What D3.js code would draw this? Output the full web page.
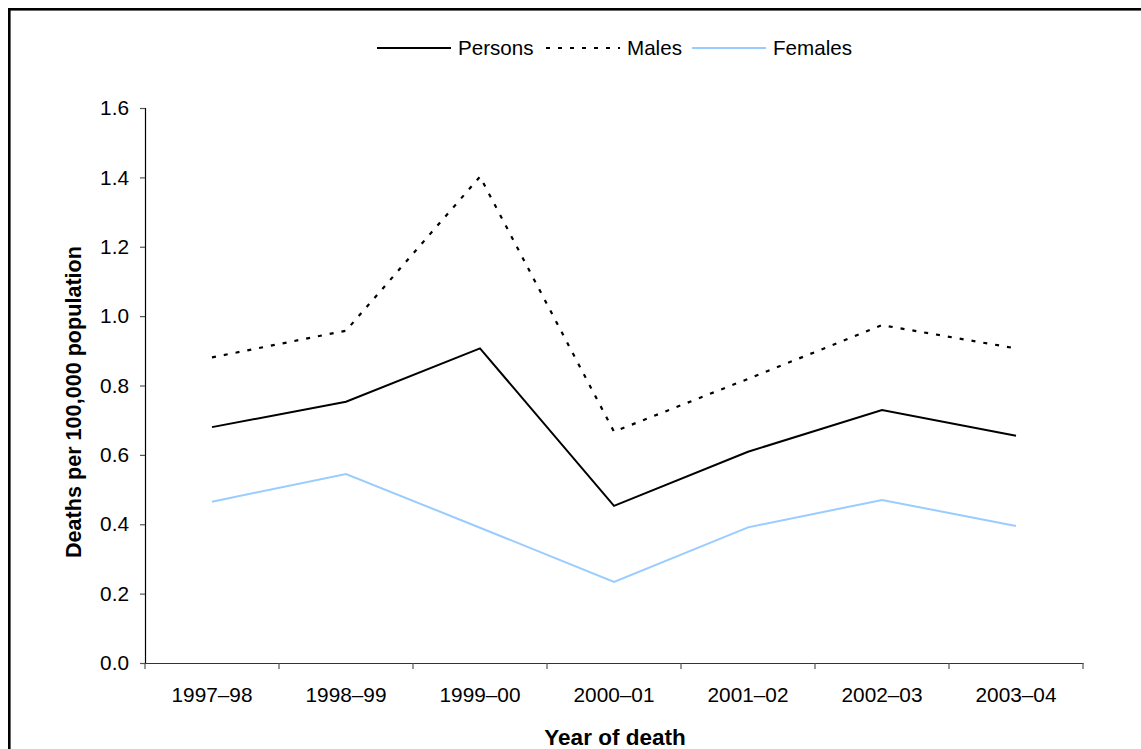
<!DOCTYPE html>
<html>
<head>
<meta charset="utf-8">
<script src="https://cdn.jsdelivr.net/npm/d3@7"></script>
<style>
  html, body { margin: 0; padding: 0; background: #fff; }
  svg { display: block; font-family: "Liberation Sans", Arial, sans-serif; }
</style>
</head>
<body>
<svg id="chart" width="1141" height="749"></svg>
<script>
const categories = ["1997–98", "1998–99", "1999–00", "2000–01", "2001–02", "2002–03", "2003–04"];
const persons = [0.68, 0.753, 0.907, 0.453, 0.609, 0.729, 0.655];
const males   = [0.881, 0.958, 1.402, 0.667, 0.819, 0.974, 0.907];
const females = [0.465, 0.545, 0.39, 0.234, 0.391, 0.47, 0.395];
const yTicks = [0, 0.2, 0.4, 0.6, 0.8, 1.0, 1.2, 1.4, 1.6];
const seriesNames = ["Persons", "Males", "Females"];

const seriesStyle = {
  Persons: { color: "#000000", dash: null, width: 2 },
  Males:   { color: "#000000", dash: "4,8", width: 2.2 },
  Females: { color: "#99ccff", dash: null, width: 2 }
};
const seriesData = { Persons: persons, Males: males, Females: females };

const svg = d3.select("#chart");

// outer frame
svg.append("rect")
  .attr("x", 9.3).attr("y", 9.3)
  .attr("width", 1300).attr("height", 900)
  .attr("fill", "none").attr("stroke", "#000").attr("stroke-width", 2.6);

const x = d3.scaleBand().domain(categories).range([145, 1083]).padding(0);
const y = d3.scaleLinear().domain([0, 1.6]).range([663, 108]);

// y axis
const yAxis = svg.append("g")
  .attr("transform", "translate(145,0)")
  .call(d3.axisLeft(y).tickValues(yTicks).tickFormat(d3.format(".1f")).tickSize(5).tickPadding(11));
yAxis.select(".domain").attr("stroke", "#000").attr("stroke-width", 1.2);
yAxis.selectAll(".tick line").attr("stroke", "#555").attr("stroke-width", 1.2);
yAxis.selectAll("text").attr("font-size", "20.8px").attr("fill", "#000")
  .attr("font-family", "'Liberation Sans', Arial, sans-serif");

// x axis (labels centered in bands, ticks on band boundaries)
const xAxis = svg.append("g")
  .attr("transform", "translate(0,663)")
  .call(d3.axisBottom(x).tickSize(0).tickPadding(0));
xAxis.select(".domain").attr("stroke", "#333").attr("stroke-width", 1.2);
xAxis.selectAll("text").attr("font-size", "20.8px").attr("fill", "#000")
  .attr("y", 39).attr("dy", 0)
  .attr("font-family", "'Liberation Sans', Arial, sans-serif");
const boundaries = categories.map(c => x(c)).concat([x.range()[1]]);
xAxis.selectAll(".bnd").data(boundaries).enter().append("line")
  .attr("class", "bnd")
  .attr("x1", d => d).attr("x2", d => d)
  .attr("y1", 0).attr("y2", 6)
  .attr("stroke", "#555").attr("stroke-width", 1.2);

// axis titles
svg.append("text")
  .attr("transform", "translate(81,402) rotate(-90)")
  .attr("text-anchor", "middle")
  .attr("font-weight", "bold").attr("font-size", "21.6px")
  .text("Deaths per 100,000 population");
svg.append("text")
  .attr("x", 615).attr("y", 745)
  .attr("text-anchor", "middle")
  .attr("font-weight", "bold").attr("font-size", "22.5px")
  .text("Year of death");

// lines
const line = d3.line()
  .x((d, i) => x(categories[i]) + x.bandwidth() / 2)
  .y(d => y(d));

seriesNames.forEach(name => {
  const st = seriesStyle[name];
  svg.append("path")
    .datum(seriesData[name])
    .attr("fill", "none")
    .attr("stroke", st.color)
    .attr("stroke-width", st.width)
    .attr("stroke-dasharray", st.dash)
    .attr("stroke-linejoin", "miter")
    .attr("d", line);
});

// legend
const legend = svg.append("g");
const legendX = [377, 546, 692];
seriesNames.forEach((name, i) => {
  const st = seriesStyle[name];
  const lx = legendX[i];
  legend.append("line")
    .attr("x1", lx).attr("x2", lx + 74)
    .attr("y1", 48).attr("y2", 48)
    .attr("stroke", st.color).attr("stroke-width", st.width)
    .attr("stroke-dasharray", st.dash);
  legend.append("text")
    .attr("x", lx + 81).attr("y", 54.5)
    .attr("font-size", "20.6px")
    .text(name);
});
</script>
</body>
</html>
